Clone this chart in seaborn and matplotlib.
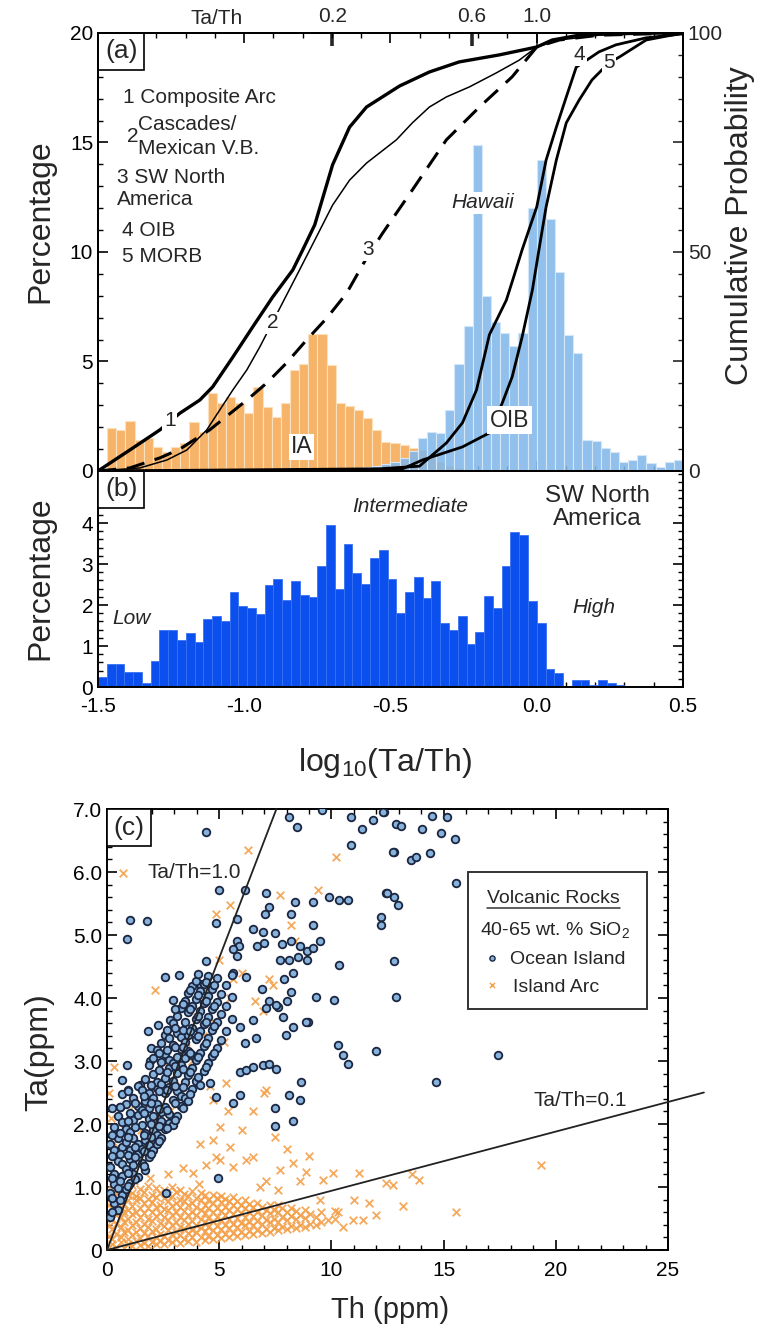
import numpy as np
import pandas as pd
import matplotlib
matplotlib.use("Agg")
import matplotlib.pyplot as plt
import matplotlib.transforms as mtransforms
from matplotlib.ticker import MultipleLocator
import seaborn as sns

# ---------------- DATA ----------------
# Panel (a): histogram bins (log10 Ta/Th), 64 bins from -1.5 to 0.5
ia_pct = [0.0, 1.95, 1.87, 2.3, 1.42, 1.49, 1.11, 0.88, 1.11, 1.26, 2.25, 1.8, 3.55, 3.09, 3.4, 3.09,
          2.63, 3.85, 2.94, 2.48, 3.09, 4.6, 4.9, 6.25, 6.25, 4.84, 3.09, 2.97, 2.8, 2.4, 1.87, 1.34,
          1.26, 1.19, 1.03, 0.96, 0.6, 0.4, 0.25, 0.15, 0.1, 0, 0, 0, 0, 0, 0, 0,
          0, 0, 0, 0, 0, 0, 0, 0, 0, 0, 0, 0, 0, 0, 0, 0]
oib_pct = [0, 0, 0, 0, 0, 0, 0, 0, 0, 0, 0, 0, 0, 0, 0, 0,
           0, 0, 0, 0, 0, 0, 0, 0, 0, 0, 0, 0, 0.15, 0.2, 0.25, 0.3,
           0.4, 0.6, 0.9, 1.49, 1.8, 1.72, 2.79, 4.9, 6.6, 14.9, 8.0, 6.8, 6.3, 5.7, 6.3, 12.0,
           14.2, 11.5, 9.1, 6.2, 5.37, 1.42, 1.38, 1.03, 0.88, 0.43, 0.5, 0.73, 0.35, 0.2, 0.43, 0.5]

# Panel (a): cumulative probability curves (x = log10 Ta/Th, y = %)
c1_x = [-1.5, -1.391, -1.288, -1.220, -1.152, -1.108, -1.039, -0.971, -0.903, -0.834, -0.800, -0.759,
        -0.698, -0.640, -0.582, -0.469, -0.367, -0.265, -0.128, 0.0, 0.053, 0.145, 0.258, 0.5]
c1_y = [0, 4.8, 9.4, 13.2, 16.2, 19.2, 26.0, 32.9, 39.7, 45.9, 50.5, 56.2,
        69.9, 78.5, 83.1, 87.9, 91.1, 93.4, 95.0, 96.8, 98.4, 99.5, 100, 100]
c2_x = [-1.5, -1.357, -1.265, -1.196, -1.128, -1.084, -1.039, -0.991, -0.947, -0.869, -0.811, -0.759, -0.698,
        -0.640, -0.582, -0.480, -0.425, -0.367, -0.309, -0.230, -0.138, -0.060, 0.0, 0.077, 0.213, 0.5]
c2_y = [0, 0.7, 2.5, 4.8, 9.4, 13.9, 18.5, 23.1, 28.3, 38.4, 45.9, 52.7, 60.7,
        66.4, 70.3, 75.6, 79.5, 83.1, 85.4, 87.7, 90.9, 93.8, 96.8, 98.4, 99.5, 100]
c3_x = [-1.5, -1.391, -1.288, -1.220, -1.118, -0.991, -0.923, -0.855, -0.787, -0.718, -0.650,
        -0.582, -0.527, -0.425, -0.309, -0.196, -0.084, 0.0, 0.077, 0.213, 0.5]
c3_y = [0, 0.7, 3.0, 5.0, 9.4, 16.2, 20.1, 24.7, 29.9, 34.9, 40.6,
        48.6, 54.3, 64.2, 75.6, 83.1, 90.0, 96.8, 98.4, 99.5, 100]
c4_x = [-1.5, -0.538, -0.401, -0.309, -0.254, -0.206, -0.186, -0.162, -0.104, -0.077, -0.050,
        0.0, 0.032, 0.067, 0.101, 0.135, 0.213, 0.271, 0.374, 0.5]
c4_y = [0, 0.5, 1.1, 6.4, 11.0, 18.5, 24.2, 31.1, 39.0, 44.7, 50.5,
        60.3, 71.0, 78.5, 85.4, 92.2, 95.7, 97.3, 98.9, 99.8]
c5_x = [-1.5, -0.469, -0.391, -0.254, -0.162, -0.118, -0.084, -0.050, -0.015, 0.009,
        0.032, 0.067, 0.101, 0.145, 0.189, 0.247, 0.282, 0.374, 0.5]
c5_y = [0, 0.2, 2.5, 5.5, 8.7, 15.5, 21.5, 30.6, 41.3, 51.1,
        60.3, 71.0, 79.5, 84.7, 89.3, 93.2, 94.5, 98.4, 100]

top_ratio_ticks = [0.2, 0.6, 1.0]
top_ratio_labels = ["0.2", "0.6", "1.0"]

# Panel (b): SW North America histogram, 0.03-wide bins from -1.5
swna_pct = [0.25, 0.55, 0.55, 0.37, 0.37, 0.1, 0.63, 1.4, 1.4, 1.15, 1.32, 1.09, 1.67, 1.73, 1.62, 2.31,
            1.98, 1.93, 1.78, 2.49, 2.63, 2.12, 2.59, 2.24, 2.2, 2.96, 3.95, 2.38, 3.5, 2.79, 2.51, 3.14,
            3.34, 2.63, 1.8, 2.31, 2.69, 2.16, 2.59, 1.57, 1.39, 1.73, 1.04, 1.33, 2.22, 1.93, 2.95, 3.79,
            3.72, 2.1, 1.55, 0.43, 0.35, 0.02, 0.17, 0.17, 0.05, 0.17, 0.1, 0.05, 0.03, 0.01]

# Panel (c): Th vs Ta (ppm)
oib_scatter_pts = [
    (4.43, 6.64), (0.87, 4.93), (1.02, 5.24), (1.79, 5.22), (4.98, 5.71), (6.16, 5.71), (4.87, 5.19),
    (5.81, 5.26), (8.13, 6.88), (8.47, 6.72), (9.59, 6.98), (10.87, 6.88), (10.87, 6.43), (11.35, 6.69),
    (11.84, 6.83), (12.36, 6.96), (12.8, 6.32), (12.9, 6.76), (7.1, 5.66), (8.4, 5.53), (9.17, 5.53),
    (9.88, 5.61), (10.36, 5.56), (10.73, 5.56), (12.2, 5.29), (12.2, 5.16), (12.43, 5.66), (12.8, 5.6),
    (9.17, 5.16), (8.21, 5.34), (7.02, 5.34), (7.24, 5.45), (6.5, 5.1), (6.96, 5.04), (7.47, 5.03),
    (5.8, 4.9), (5.9, 4.83), (5.6, 4.77), (5.8, 4.67), (6.7, 4.83), (7.0, 4.88), (7.8, 4.85), (8.2, 4.9),
    (8.6, 4.82), (8.9, 4.75), (9.2, 4.8), (9.5, 4.9), (8.9, 4.6), (8.5, 4.65), (8.1, 4.6), (7.69, 4.6),
    (4.43, 4.58), (10.36, 4.52), (12.8, 4.58), (12.88, 4.02), (2.58, 4.34), (3.2, 4.37), (4.13, 4.23),
    (2.95, 3.97), (9.32, 4.02), (10.13, 3.97), (8.95, 3.62), (6.2, 4.34), (5.61, 4.39), (6.9, 4.15),
    (7.2, 3.95), (7.6, 3.85), (8.0, 3.95), (8.2, 4.1), (7.9, 4.3), (8.3, 4.4),
    (0.87, 2.94), (0.65, 2.7), (0.92, 2.54), (1.47, 2.62), (0.58, 2.27), (1.84, 3.47), (2.28, 3.57),
    (2.8, 3.65), (1.95, 3.2), (1.9, 3.0), (4.95, 1.14), (2.65, 0.9), (6.13, 3.29), (6.65, 3.37),
    (5.91, 3.54), (6.5, 3.65), (7.1, 3.84), (7.54, 3.89), (7.84, 3.7), (8.28, 3.54), (7.99, 3.41),
    (8.88, 3.62), (5.91, 2.83), (6.21, 2.86), (6.5, 2.91), (6.95, 2.94), (7.24, 2.96), (7.54, 2.88),
    (4.58, 2.65), (4.87, 2.43), (5.61, 2.33), (5.91, 2.46), (7.47, 2.25), (7.47, 1.97), (8.28, 2.04),
    (8.13, 2.46), (8.58, 2.38), (8.65, 2.67), (10.28, 3.25), (10.5, 3.1), (10.73, 2.96), (11.99, 3.16),
    (17.44, 3.1), (14.68, 2.66), (12.28, 6.96), (13.1, 6.73), (14.03, 6.68), (14.5, 6.89), (15.17, 6.87),
    (14.87, 6.62), (15.51, 6.53), (12.76, 6.32), (13.54, 6.19), (13.79, 6.24), (14.38, 6.3), (15.57, 5.82),
    (12.5, 5.66), (12.99, 5.48)]
# dense OIB band, listed column by column: (Th, [Ta values])
oib_band_cols = [
    (0.12, [0.52, 0.9, 1.32, 1.68]), (0.31, [0.74, 1.05, 1.21, 1.58, 1.96]),
    (0.47, [0.63, 0.98, 1.42, 1.77, 2.12]), (0.66, [0.88, 1.17, 1.36, 1.63, 2.03, 2.47]),
    (0.83, [0.97, 1.29, 1.71, 1.92, 2.31]), (1.02, [1.06, 1.44, 1.59, 1.88, 2.18]),
    (1.18, [1.21, 1.35, 1.78, 2.06, 2.41]), (1.37, [1.16, 1.52, 1.69, 2.14, 2.29, 2.6]),
    (1.55, [1.38, 1.61, 1.99, 2.22, 2.54]), (1.71, [1.27, 1.74, 1.86, 2.37, 2.71]),
    (1.88, [1.47, 1.66, 2.08, 2.26, 2.49, 2.93]), (2.07, [1.58, 1.91, 2.12, 2.42, 2.8, 3.05]),
    (2.24, [1.69, 1.83, 2.31, 2.57, 2.67, 3.17]), (2.42, [1.77, 2.05, 2.19, 2.64, 2.98, 3.28]),
    (2.58, [1.92, 2.27, 2.49, 2.73, 3.11, 3.42]), (2.77, [2.02, 2.16, 2.58, 2.89, 3.02, 3.36]),
    (2.93, [1.98, 2.38, 2.69, 2.97, 3.26, 3.6]), (3.12, [2.13, 2.52, 2.81, 3.07, 3.45, 3.71]),
    (3.28, [2.29, 2.45, 2.93, 3.19, 3.38, 3.84]), (3.46, [2.41, 2.66, 3.04, 3.3, 3.62, 3.96]),
    (3.63, [2.36, 2.78, 3.16, 3.41, 3.77, 4.08]), (3.81, [2.55, 2.89, 3.09, 3.53, 3.88, 4.19]),
    (3.97, [2.68, 3.02, 3.35, 3.66, 3.99, 4.27]), (4.16, [2.62, 3.13, 3.47, 3.79, 4.11]),
    (4.33, [2.84, 3.24, 3.58, 3.92, 4.22]), (4.52, [2.97, 3.36, 3.7, 4.03, 4.35]),
    (4.7, [3.08, 3.49, 3.83, 4.14]), (4.89, [3.21, 3.62, 3.94, 4.31]),
    (5.08, [3.33, 3.75, 4.07]), (5.31, [3.47, 3.88, 4.21]), (5.55, [3.66, 4.02, 4.36]),
    (0.21, [0.61, 0.83, 1.14, 1.49, 1.83, 2.25]), (0.56, [0.79, 1.1, 1.53, 1.86, 2.27]),
    (0.93, [1.01, 1.22, 1.51, 1.79, 2.05, 2.52]), (1.27, [1.12, 1.47, 1.64, 1.95, 2.34]),
    (1.63, [1.33, 1.57, 1.82, 2.18, 2.45]), (1.97, [1.52, 1.79, 2.0, 2.33, 2.62]),
    (2.33, [1.73, 1.97, 2.24, 2.52, 2.86, 3.13]), (2.68, [1.94, 2.23, 2.54, 2.82, 3.18, 3.5]),
    (3.03, [2.07, 2.33, 2.61, 2.92, 3.23, 3.53, 3.82]), (3.37, [2.25, 2.58, 2.88, 3.22, 3.5, 3.9]),
    (3.72, [2.48, 2.83, 3.12, 3.47, 3.82, 4.12]), (4.07, [2.74, 3.07, 3.4, 3.72, 4.05, 4.38]),
    (4.42, [2.9, 3.29, 3.62, 3.96, 4.25]), (4.79, [3.12, 3.55, 3.88, 4.2])]
# dense Island Arc wedge near the origin, column by column: (Th, [Ta values])
ia_wedge_cols = [
    (0.08, [0.04, 0.22, 0.38, 0.57, 0.71, 0.93]), (0.24, [0.09, 0.17, 0.33, 0.49, 0.66, 0.82, 1.04]),
    (0.42, [0.05, 0.26, 0.41, 0.55, 0.77, 0.9]), (0.61, [0.12, 0.2, 0.36, 0.52, 0.69, 0.84, 0.98]),
    (0.77, [0.03, 0.28, 0.44, 0.6, 0.73, 0.95]), (0.95, [0.1, 0.18, 0.31, 0.5, 0.64, 0.8, 0.88]),
    (1.13, [0.06, 0.24, 0.39, 0.57, 0.7, 0.91, 1.03]), (1.29, [0.14, 0.29, 0.45, 0.61, 0.79, 0.86]),
    (1.48, [0.08, 0.19, 0.35, 0.53, 0.67, 0.83, 0.97]), (1.66, [0.11, 0.27, 0.42, 0.58, 0.74, 0.92]),
    (1.82, [0.07, 0.22, 0.37, 0.49, 0.66, 0.81, 1.01]), (2.01, [0.13, 0.3, 0.46, 0.6, 0.76, 0.87]),
    (2.19, [0.09, 0.2, 0.34, 0.54, 0.69, 0.84, 0.99]), (2.36, [0.15, 0.26, 0.43, 0.58, 0.72, 0.9]),
    (2.54, [0.1, 0.23, 0.38, 0.52, 0.65, 0.82, 0.96]), (2.73, [0.16, 0.32, 0.47, 0.63, 0.78, 0.88]),
    (2.9, [0.12, 0.25, 0.4, 0.55, 0.7, 0.85, 1.0]), (3.08, [0.17, 0.29, 0.44, 0.6, 0.75, 0.92]),
    (3.27, [0.11, 0.24, 0.37, 0.53, 0.68, 0.8, 0.95]), (3.45, [0.18, 0.33, 0.48, 0.62, 0.77, 0.89]),
    (3.62, [0.14, 0.27, 0.42, 0.56, 0.71, 0.86]), (3.81, [0.2, 0.31, 0.46, 0.61, 0.74, 0.93]),
    (3.98, [0.13, 0.28, 0.4, 0.55, 0.69, 0.83]), (4.17, [0.21, 0.35, 0.5, 0.64, 0.79, 0.9]),
    (4.35, [0.16, 0.3, 0.44, 0.58, 0.72, 0.87]), (4.52, [0.22, 0.37, 0.51, 0.66, 0.8]),
    (4.71, [0.17, 0.32, 0.46, 0.6, 0.74, 0.88]), (4.88, [0.24, 0.38, 0.53, 0.67, 0.82]),
    (5.06, [0.19, 0.33, 0.48, 0.62, 0.76, 0.86]), (5.25, [0.25, 0.4, 0.55, 0.69, 0.81]),
    (5.43, [0.2, 0.35, 0.49, 0.63, 0.78]), (5.6, [0.27, 0.42, 0.57, 0.71, 0.84]),
    (5.79, [0.22, 0.37, 0.51, 0.65, 0.77]), (5.97, [0.28, 0.43, 0.58, 0.72]),
    (6.15, [0.24, 0.39, 0.53, 0.67, 0.8]), (6.34, [0.3, 0.45, 0.6, 0.73]),
    (6.52, [0.26, 0.4, 0.54, 0.68]), (6.7, [0.31, 0.46, 0.61, 0.75]),
    (6.89, [0.27, 0.42, 0.56, 0.69]), (7.07, [0.33, 0.48, 0.63]), (7.26, [0.29, 0.44, 0.58, 0.71]),
    (7.44, [0.35, 0.5, 0.64]), (7.63, [0.31, 0.45, 0.6, 0.72]), (7.81, [0.36, 0.52, 0.66]),
    (8.0, [0.33, 0.47, 0.61]), (8.2, [0.38, 0.54, 0.67]), (8.41, [0.35, 0.49, 0.62]),
    (8.6, [0.4, 0.55]), (8.82, [0.37, 0.51, 0.64]), (9.05, [0.42, 0.57]), (9.3, [0.4, 0.53]),
    (9.55, [0.45, 0.6]), (9.85, [0.47]), (10.15, [0.5, 0.62])]
ia_scatter_pts = [
    (0.72, 5.98), (6.28, 6.35), (10.2, 6.24), (4.87, 5.34), (7.69, 5.63), (9.39, 5.71), (2.13, 4.13),
    (8.2, 5.16), (8.4, 4.9), (5.6, 4.3), (7.2, 4.3), (7.4, 4.2), (6.6, 3.95), (6.95, 3.8), (12.73, 1.03),
    (13.91, 1.11), (19.32, 1.35), (15.57, 0.61), (3.84, 1.22), (4.43, 1.35), (5.02, 1.43), (5.61, 1.32),
    (6.2, 1.43), (6.5, 1.48), (7.1, 1.09), (7.69, 1.27), (8.28, 1.38), (8.88, 1.24), (9.61, 1.11),
    (10.06, 1.22), (11.24, 1.22), (11.69, 0.74), (12.43, 1.06), (10.95, 0.48), (11.4, 0.48), (10.5, 0.37),
    (7.1, 2.54), (4.73, 2.38), (5.32, 2.65), (5.02, 1.96), (4.73, 1.75), (4.13, 1.69), (5.47, 1.64),
    (4.87, 1.48), (5.47, 5.48), (0.5, 1.5), (0.8, 2.0), (1.2, 2.3), (1.5, 1.9), (2.0, 2.6), (2.5, 3.0),
    (3.0, 2.9), (3.5, 3.3), (4.0, 3.7), (4.5, 4.1), (5.0, 4.6), (1.0, 1.8), (2.2, 1.7), (2.8, 2.2),
    (3.3, 2.6), (3.8, 3.0), (4.3, 3.4), (4.8, 3.6), (5.2, 3.3), (5.5, 4.0), (6.0, 4.4), (0.3, 1.7),
    (0.2, 2.1), (0.1, 2.5), (0.3, 2.9), (4.6, 2.6), (5.4, 2.2), (6.0, 1.9), (6.5, 2.2), (7.0, 2.5), (7.5, 1.8),
    (1.2, 1.1), (1.9, 1.15), (2.7, 1.2), (3.4, 1.3), (4.1, 1.05), (6.8, 1.0), (7.6, 0.95), (8.6, 1.1),
    (9.5, 0.8), (10.3, 0.6), (11.0, 0.8), (12.0, 0.55), (13.2, 0.7), (13.6, 1.2), (9.0, 1.5), (8.0, 1.6)]

# Reference ratio lines (end points)
ref_th_end = [7.55, 26.6]
ref_ta_end = [7.0, 2.5]

# ---------------- STYLE ----------------
sns.set_theme(style="ticks")
plt.rcParams["font.family"] = ["Liberation Sans", "DejaVu Sans"]
plt.rcParams["mathtext.default"] = "regular"
plt.rcParams["axes.linewidth"] = 1.4
plt.rcParams["axes.edgecolor"] = "black"

fig = plt.figure(figsize=(7.75, 13.32), dpi=100)
ax_a = fig.add_axes([0.12645, 0.64640, 0.75484, 0.32883])
ax_b = fig.add_axes([0.12645, 0.48423, 0.75484, 0.16216])
ax_c = fig.add_axes([0.13806, 0.06156, 0.72387, 0.33108])

TS = 15


def style_ticks(ax, right=True, top=True):
    ax.tick_params(which="both", direction="in", top=top, right=right, labelsize=TS,
                   colors="black", width=1.2)
    ax.tick_params(which="major", length=7)
    ax.tick_params(which="minor", length=3.5, width=1.0)


boxprops = dict(boxstyle="square,pad=0.25", fc="white", ec="black", lw=1.2)
white = dict(boxstyle="square,pad=0.08", fc="white", ec="none")

# ---------------- PANEL (a) ----------------
bw_a = 2.0 / 64
cent_a = -1.5 + bw_a * (np.arange(64) + 0.5)
hist_a = pd.DataFrame({"x": cent_a, "ia": ia_pct, "oib": oib_pct})
sns.histplot(data=hist_a, x="x", weights="ia", binwidth=bw_a, binrange=(-1.5, 0.5), ax=ax_a,
             color="#F6B46A", edgecolor="#FBE0BE", linewidth=0.8, alpha=1.0)
sns.histplot(data=hist_a, x="x", weights="oib", binwidth=bw_a, binrange=(-1.5, 0.5), ax=ax_a,
             color="#82B8EA", edgecolor="#D4E7F8", linewidth=0.8, alpha=0.88)
ax_a.set_xlim(-1.5, 0.5)
ax_a.set_ylim(0, 20)
ax_a.set_yticks([0, 5, 10, 15, 20])
ax_a.yaxis.set_minor_locator(MultipleLocator(1))
ax_a.xaxis.set_major_locator(MultipleLocator(0.5))
ax_a.xaxis.set_minor_locator(MultipleLocator(0.1))
style_ticks(ax_a, right=False, top=True)
ax_a.tick_params(labelbottom=False)
ax_a.set_xlabel("")
ax_a.set_ylabel("Percentage", fontsize=23)
ax_a.yaxis.label.set_va("center")
ax_a.yaxis.set_label_coords(-0.099, 0.57)

ax_cum = ax_a.twinx()
ax_cum.set_ylim(0, 100)
ax_cum.set_yticks([0, 25, 50, 75, 100])
ax_cum.set_yticklabels(["0", "", "50", "", "100"])
ax_cum.yaxis.set_minor_locator(MultipleLocator(5))
ax_cum.tick_params(which="both", direction="in", labelsize=TS, width=1.2)
ax_cum.tick_params(which="major", length=7)
ax_cum.tick_params(which="minor", length=3.5, width=1.0)
ax_cum.set_ylabel("Cumulative Probability", fontsize=23, rotation=90)
ax_cum.yaxis.label.set_va("center")
ax_cum.yaxis.set_label_coords(1.097, 0.56)

ax_cum.plot(c1_x, c1_y, color="black", lw=2.4, solid_capstyle="round")
ax_cum.plot(c2_x, c2_y, color="black", lw=1.1)
ax_cum.plot(c3_x, c3_y, color="black", lw=2.2, linestyle=(0, (6, 3.5)))
ax_cum.plot(c4_x, c4_y, color="black", lw=2.0)
ax_cum.plot(c5_x, c5_y, color="black", lw=2.0)

for lab, xx, yy in [("1", -1.254, 11.6), ("2", -0.903, 33.8), ("3", -0.578, 50.5),
                    ("4", 0.145, 95.0), ("5", 0.247, 93.2)]:
    ax_cum.text(xx, yy, lab, fontsize=15, ha="center", va="center", bbox=white, zorder=10)
ax_cum.text(-0.804, 5.5, "IA", fontsize=16.5, ha="center", va="center", bbox=white, zorder=10)
ax_cum.text(-0.094, 11.6, "OIB", fontsize=16.5, ha="center", va="center",
            bbox=dict(boxstyle="square,pad=0.12", fc="white", ec="none"), zorder=10)
ax_cum.text(-0.186, 61.2, "Hawaii", fontsize=15, style="italic", ha="center", va="center",
            bbox=white, zorder=10)

leg_items = [("1 Composite Arc", 0.043, 0.852), ("2", 0.050, 0.763), ("Cascades/", 0.068, 0.790),
             ("Mexican V.B.", 0.068, 0.737), ("3 SW North", 0.032, 0.671), ("America", 0.032, 0.619),
             ("4 OIB", 0.041, 0.550), ("5 MORB", 0.041, 0.489)]
for txt, xx, yy in leg_items:
    ax_a.text(xx, yy, txt, transform=ax_a.transAxes, fontsize=15, ha="left", va="center")
ax_a.text(0.012, 0.986, "(a)", transform=ax_a.transAxes, fontsize=19, ha="left", va="top",
          bbox=boxprops, zorder=20)

sec = ax_a.secondary_xaxis("top")
sec.set_xticks(np.log10(top_ratio_ticks))
sec.set_xticklabels(top_ratio_labels)
sec.tick_params(direction="in", length=9, width=2.6, labelsize=TS, pad=5)
majt = sec.xaxis.get_major_ticks()
majt[2].tick1line.set_markeredgewidth(1.2)
majt[2].tick2line.set_markeredgewidth(1.2)
blend = mtransforms.blended_transform_factory(ax_a.transData, ax_a.transAxes)
ax_a.text(-1.094, 1.034, "Ta/Th", transform=blend, fontsize=TS, ha="center", va="center")

# ---------------- PANEL (b) ----------------
bw_b = 0.03
cent_b = -1.5 + bw_b * (np.arange(len(swna_pct)) + 0.5)
hist_b = pd.DataFrame({"x": cent_b, "pct": swna_pct})
sns.histplot(data=hist_b, x="x", weights="pct", binwidth=bw_b,
             binrange=(-1.5, -1.5 + bw_b * len(swna_pct)), ax=ax_b, color="#0B50EE",
             edgecolor="#3A72F2", linewidth=0.6, alpha=1.0)
ax_b.set_xlim(-1.5, 0.5)
ax_b.set_ylim(0, 5.27)
ax_b.set_yticks([0, 1, 2, 3, 4])
ax_b.yaxis.set_minor_locator(MultipleLocator(0.2))
ax_b.set_xticks([-1.5, -1.0, -0.5, 0.0, 0.5])
ax_b.set_xticklabels(["-1.5", "-1.0", "-0.5", "0.0", "0.5"])
ax_b.xaxis.set_minor_locator(MultipleLocator(0.1))
style_ticks(ax_b, right=True, top=False)
ax_b.tick_params(axis="x", pad=7)
ax_b.set_ylabel("Percentage", fontsize=23)
ax_b.yaxis.label.set_va("center")
ax_b.yaxis.set_label_coords(-0.099, 0.505)
ax_b.set_xlabel("log$_{10}$(Ta/Th)", fontsize=23)
ax_b.xaxis.set_label_coords(0.49, -0.352)
ax_b.xaxis.label.set_va("center")
ax_b.text(0.012, 0.97, "(b)", transform=ax_b.transAxes, fontsize=19, ha="left", va="top",
          bbox=boxprops, zorder=20)
ax_b.text(-0.432, 4.41, "Intermediate", fontsize=15, style="italic", ha="center", va="center")
ax_b.text(0.206, 4.39, "SW North\nAmerica", fontsize=17.5, ha="center", va="center", linespacing=1.05)
ax_b.text(0.196, 1.93, "High", fontsize=15, style="italic", ha="center", va="center")
ax_b.text(-1.387, 1.68, "Low", fontsize=15, style="italic", ha="center", va="center")

# ---------------- PANEL (c) ----------------
oib_rows = list(oib_scatter_pts)
for th, tas in oib_band_cols:
    oib_rows += [(th, ta) for ta in tas]
ia_rows = list(ia_scatter_pts)
for th, tas in ia_wedge_cols:
    ia_rows += [(th, ta) for ta in tas]
oib_df = pd.DataFrame(oib_rows, columns=["Th", "Ta"])
ia_df = pd.DataFrame(ia_rows, columns=["Th", "Ta"])
sns.scatterplot(data=ia_df, x="Th", y="Ta", ax=ax_c, marker="x", s=30, color="#F4A04A",
                linewidth=1.3, alpha=0.9, zorder=2)
sns.scatterplot(data=oib_df, x="Th", y="Ta", ax=ax_c, marker="o", s=30, facecolor="#86B2DC",
                edgecolor="#1B2640", linewidth=1.3, zorder=3)
for te, ae in zip(ref_th_end, ref_ta_end):
    ax_c.plot([0, te], [0, ae], color="#222222", lw=1.3, clip_on=False, zorder=4)
ax_c.set_xlim(0, 25)
ax_c.set_ylim(0, 7)
ax_c.set_xticks([0, 5, 10, 15, 20, 25])
ax_c.xaxis.set_minor_locator(MultipleLocator(1))
ax_c.set_yticks([0, 1, 2, 3, 4, 5, 6, 7])
ax_c.set_yticklabels(["0", "1.0", "2.0", "3.0", "4.0", "5.0", "6.0", "7.0"])
ax_c.yaxis.set_minor_locator(MultipleLocator(0.2))
style_ticks(ax_c, right=True, top=True)
ax_c.tick_params(axis="x", pad=8)
ax_c.set_xlabel("Th (ppm)", fontsize=21)
ax_c.xaxis.set_label_coords(0.504, -0.136)
ax_c.xaxis.label.set_va("center")
ax_c.set_ylabel("Ta(ppm)", fontsize=23)
ax_c.yaxis.label.set_va("center")
ax_c.yaxis.set_label_coords(-0.12, 0.449)
ax_c.text(0.012, 0.985, "(c)", transform=ax_c.transAxes, fontsize=19, ha="left", va="top",
          bbox=boxprops, zorder=20)
ax_c.text(3.91, 6.0, "Ta/Th=1.0", fontsize=15, ha="center", va="center")
ax_c.text(21.1, 2.38, "Ta/Th=0.1", fontsize=15, ha="center", va="center")

# legend box (manual)
ax_c.add_patch(plt.Rectangle((0.643, 0.546), 0.320, 0.311, transform=ax_c.transAxes,
                             fc="white", ec="#333333", lw=1.4, zorder=10))
ax_c.text(0.795, 0.798, "Volcanic Rocks", transform=ax_c.transAxes, fontsize=14,
          ha="center", va="center", zorder=11)
ax_c.plot([0.677, 0.914], [0.776, 0.776], transform=ax_c.transAxes, color="#333333", lw=1.1, zorder=11)
ax_c.text(0.799, 0.726, "40-65 wt. % SiO$_2$", transform=ax_c.transAxes, fontsize=14,
          ha="center", va="center", zorder=11)
ax_c.scatter([0.686], [0.662], transform=ax_c.transAxes, marker="o", s=14, facecolor="#86B2DC",
             edgecolor="#1B2640", linewidth=1.0, zorder=11)
ax_c.text(0.718, 0.658, "Ocean Island", transform=ax_c.transAxes, fontsize=14,
          ha="left", va="center", zorder=11)
ax_c.scatter([0.686], [0.601], transform=ax_c.transAxes, marker="x", s=14, color="#F4A04A",
             linewidth=1.0, zorder=11)
ax_c.text(0.724, 0.596, "Island Arc", transform=ax_c.transAxes, fontsize=14,
          ha="left", va="center", zorder=11)

fig.savefig("out.png", dpi=100)
